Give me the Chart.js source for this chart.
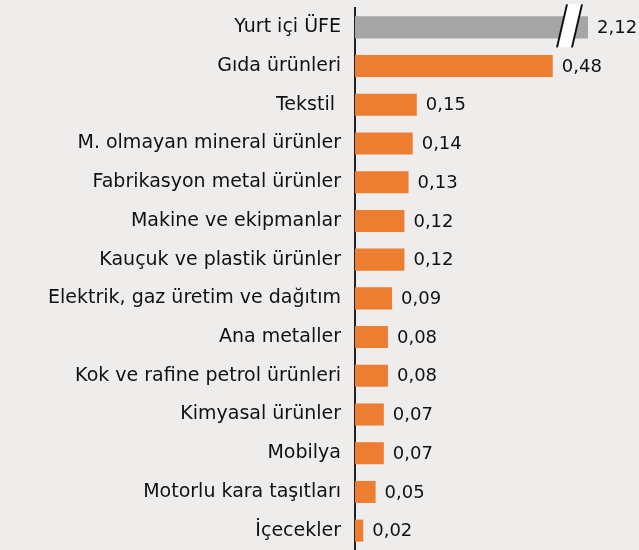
<!DOCTYPE html>
<html>
<head>
    <script src="https://cdn.jsdelivr.net/npm/chart.js"></script>
    <style>
        body { margin: 0; padding: 0; background: #efedec; overflow: hidden; }
        #wrap { width: 639px; height: 550px; position: relative; }
    </style>
</head>
<body>
    <div id="wrap"><canvas id="myChart"></canvas></div>
    <script>
        const categories = ['Yurt içi ÜFE', 'Gıda ürünleri', 'Tekstil ', 'M. olmayan mineral ürünler',
            'Fabrikasyon metal ürünler', 'Makine ve ekipmanlar', 'Kauçuk ve plastik ürünler',
            'Elektrik, gaz üretim ve dağıtım', 'Ana metaller', 'Kok ve rafine petrol ürünleri',
            'Kimyasal ürünler', 'Mobilya', 'Motorlu kara taşıtları', 'İçecekler'];
        const values = [2.12, 0.48, 0.15, 0.14, 0.13, 0.12, 0.12, 0.09, 0.08, 0.08, 0.07, 0.07, 0.05, 0.02];
        const barColors = ['#a5a5a5', '#ed7d31', '#ed7d31', '#ed7d31', '#ed7d31', '#ed7d31', '#ed7d31',
            '#ed7d31', '#ed7d31', '#ed7d31', '#ed7d31', '#ed7d31', '#ed7d31', '#ed7d31'];
        const axisMax = 0.5655; // first bar is cut by the break mark

        const FONT = "'DejaVu Sans', sans-serif";

        // value labels + break mark on the truncated bar
        const labelPlugin = {
            id: 'valueLabels',
            afterDatasetsDraw(chart) {
                const ctx = chart.ctx;
                const area = chart.chartArea;
                const meta = chart.getDatasetMeta(0);
                ctx.save();
                ctx.font = '18px ' + FONT;
                ctx.fillStyle = '#111';
                ctx.textBaseline = 'middle';
                ctx.textAlign = 'left';
                meta.data.forEach((bar, i) => {
                    const x = Math.min(bar.x, area.right);
                    ctx.fillText(values[i].toFixed(2).replace('.', ','), x + 9, bar.y + 1);
                });
                // break symbol
                const b = meta.data[0];
                if (b.x > area.right) {
                    const r = area.right;
                    const top = b.y - 23, bot = b.y + 20;
                    ctx.beginPath();
                    ctx.moveTo(r - 31, bot);
                    ctx.lineTo(r - 21, top);
                    ctx.lineTo(r - 6, top);
                    ctx.lineTo(r - 16, bot);
                    ctx.closePath();
                    ctx.fillStyle = '#ffffff';
                    ctx.fill();
                    ctx.strokeStyle = '#111';
                    ctx.lineWidth = 2;
                    ctx.beginPath();
                    ctx.moveTo(r - 31, bot); ctx.lineTo(r - 21, top);
                    ctx.moveTo(r - 16, bot); ctx.lineTo(r - 6, top);
                    ctx.stroke();
                }
                ctx.restore();
            }
        };

        new Chart(document.getElementById('myChart'), {
            type: 'bar',
            data: {
                labels: categories,
                datasets: [{
                    data: values,
                    backgroundColor: barColors,
                    borderWidth: 0,
                    categoryPercentage: 0.57,
                    barPercentage: 1
                }]
            },
            options: {
                indexAxis: 'y',
                responsive: true,
                maintainAspectRatio: false,
                animation: false,
                layout: { padding: { top: 8, right: 51, bottom: 0, left: 0 } },
                plugins: {
                    legend: { display: false },
                    tooltip: { enabled: false }
                },
                scales: {
                    x: {
                        min: 0,
                        max: axisMax,
                        display: false
                    },
                    y: {
                        afterFit(scale) {
                            scale.width = 355;
                            scale.paddingTop = 0;
                            scale.paddingBottom = 0;
                        },
                        grid: { display: false, drawTicks: false },
                        border: { display: true, color: '#222', width: 2 },
                        ticks: {
                            color: '#111',
                            padding: 14,
                            font: { family: FONT, size: 19 }
                        }
                    }
                }
            },
            plugins: [labelPlugin]
        });
    </script>
</body>
</html>
